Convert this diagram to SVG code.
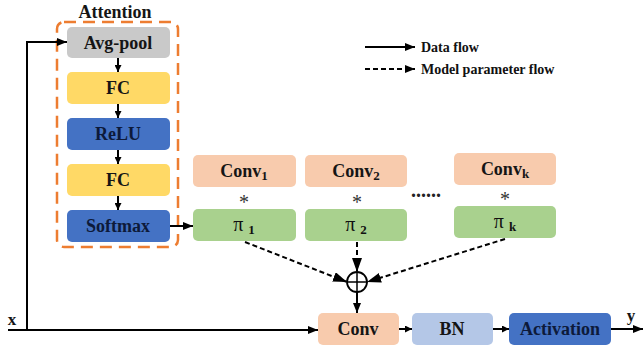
<svg xmlns="http://www.w3.org/2000/svg" width="644" height="350" viewBox="0 0 644 350" font-family="Liberation Serif, serif">
<style>
text{font-family:"Liberation Serif",serif}
.t{font-weight:bold;font-size:18px;fill:#151515;text-anchor:middle}
.tb{fill:#0d1a3a}
.lg{font-weight:bold;font-size:14px;fill:#111}
.pi{font-size:20px;fill:#111;text-anchor:middle}
.sub{font-weight:bold;font-size:13px}
.st{font-size:20px;fill:#333;text-anchor:middle}
.ln{fill:none;stroke:#000;stroke-width:2}
.dl{fill:none;stroke:#000;stroke-width:2;stroke-dasharray:5,3}
.gray{fill:#c9c9c9}.yel{fill:#ffd966}.blu{fill:#4472c4}.pch{fill:#f8cbad}.grn{fill:#a9d18e}.lbl{fill:#b4c7e7}
</style>
<defs>
<marker id="ah" markerWidth="10" markerHeight="8" refX="10" refY="4" orient="auto" markerUnits="userSpaceOnUse"><path d="M0,0 L10,4 L0,8 Z" fill="#000"/></marker>
<marker id="as" markerWidth="7" markerHeight="7" refX="7" refY="3.5" orient="auto" markerUnits="userSpaceOnUse"><path d="M0,0 L7,3.5 L0,7 Z" fill="#000"/></marker>
<marker id="ab" markerWidth="14" markerHeight="10" refX="14" refY="5" orient="auto" markerUnits="userSpaceOnUse"><path d="M0,0 L14,5 L0,10 Z" fill="#000"/></marker>
</defs>

<g id="attention">
<rect x="57" y="22" width="121" height="225" rx="7" fill="none" stroke="#ed7d31" stroke-width="2.5" stroke-dasharray="12,7"/>
<text class="t" x="115" y="18">Attention</text>
</g>
<g id="avgpool"><rect class="gray" x="67" y="27" width="103" height="31" rx="5"/><text class="t" x="118" y="49">Avg-pool</text></g>
<g id="fc1"><rect class="yel" x="67" y="72" width="103" height="32" rx="5"/><text class="t" x="118" y="94">FC</text></g>
<g id="relu"><rect class="blu" x="67" y="118" width="103" height="32" rx="5"/><text class="t tb" x="118" y="140">ReLU</text></g>
<g id="fc2"><rect class="yel" x="67" y="164" width="103" height="32" rx="5"/><text class="t" x="118" y="186">FC</text></g>
<g id="softmax"><rect class="blu" x="67" y="210" width="103" height="32" rx="5"/><text class="t tb" x="118" y="232">Softmax</text></g>

<g id="conv1"><rect class="pch" x="193" y="155" width="103" height="32" rx="5"/><text class="t" x="244" y="177">Conv<tspan class="sub" dy="3">1</tspan></text></g>
<g id="conv2"><rect class="pch" x="305" y="155" width="102" height="32" rx="5"/><text class="t" x="356" y="177">Conv<tspan class="sub" dy="3">2</tspan></text></g>
<g id="convk"><rect class="pch" x="454" y="153" width="102" height="32" rx="5"/><text class="t" x="505" y="175">Conv<tspan class="sub" dy="3">k</tspan></text></g>

<g id="pi1"><rect class="grn" x="193" y="209" width="103" height="32" rx="5"/><text class="pi" x="244" y="231">π <tspan class="sub" dy="3">1</tspan></text></g>
<g id="pi2"><rect class="grn" x="305" y="209" width="102" height="32" rx="5"/><text class="pi" x="356" y="231">π <tspan class="sub" dy="3">2</tspan></text></g>
<g id="pik"><rect class="grn" x="454" y="206" width="102" height="32" rx="5"/><text class="pi" x="505" y="228">π <tspan class="sub" dy="3">k</tspan></text></g>

<g id="stars">
<text class="st" x="244" y="209">*</text>
<text class="st" x="357" y="209">*</text>
<text class="st" x="505" y="206">*</text>
<text class="t" x="426" y="197" style="font-size:20px;fill:#222">......</text>
</g>

<g id="sum"><circle cx="357" cy="282" r="10" fill="#fff" stroke="#000" stroke-width="1.8"/><path d="M347 282 H367 M357 272 V292" stroke="#000" stroke-width="1.5"/></g>

<g id="conv"><rect class="pch" x="318" y="313" width="81" height="32" rx="5"/><text class="t" x="358" y="335">Conv</text></g>
<g id="bn"><rect class="lbl" x="412" y="313" width="81" height="32" rx="5"/><text class="t" x="452" y="335">BN</text></g>
<g id="activation"><rect class="blu" x="509" y="313" width="102" height="32" rx="5"/><text class="t tb" x="560" y="335">Activation</text></g>

<g id="labels">
<text class="t" x="12" y="325" style="font-size:17px">x</text>
<text class="t" x="631" y="321" style="font-size:17px">y</text>
</g>

<g id="legend">
<path class="ln" d="M365 47 H415" marker-end="url(#ah)"/>
<text class="lg" x="421" y="52">Data flow</text>
<path class="dl" d="M365 69 H415" marker-end="url(#ah)"/>
<text class="lg" x="421" y="74">Model parameter flow</text>
</g>

<g id="connectors">
<path class="ln" d="M118 58 V72" marker-end="url(#as)"/>
<path class="ln" d="M118 104 V118" marker-end="url(#as)"/>
<path class="ln" d="M118 150 V164" marker-end="url(#as)"/>
<path class="ln" d="M118 196 V210" marker-end="url(#as)"/>
<path class="ln" d="M27 330 V42 H67" marker-end="url(#ah)"/>
<path class="ln" d="M8 330 H318" marker-end="url(#ah)"/>
<path class="ln" d="M170 226 H193" marker-end="url(#ah)"/>
<path class="dl" d="M245 242 L347 282" marker-end="url(#ab)"/>
<path class="dl" d="M357 242 V272" marker-end="url(#ab)"/>
<path class="dl" d="M505 239 L367 282" marker-end="url(#ab)"/>
<path class="ln" d="M357 292 V313" marker-end="url(#ah)"/>
<path class="ln" d="M399 329 H412" marker-end="url(#as)"/>
<path class="ln" d="M493 329 H509" marker-end="url(#as)"/>
<path class="ln" d="M611 329 H643" marker-end="url(#ah)"/>
</g>
</svg>
